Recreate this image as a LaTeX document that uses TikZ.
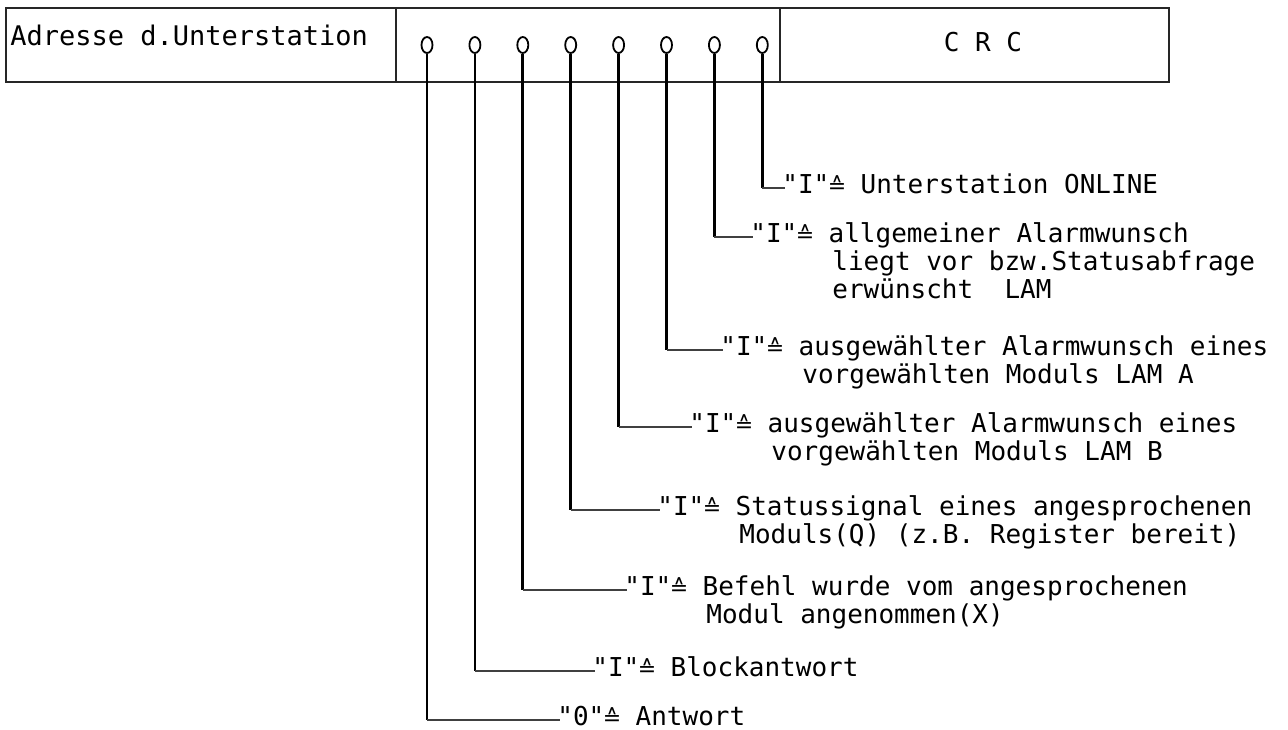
\documentclass[tikz,border=0pt]{standalone}
\usepackage{fontspec}
\usetikzlibrary{shapes.geometric}
\newfontfamily\twfont{DejaVu Sans Mono}
\newfontfamily\symfont{DejaVu Sans}
\newcommand\corr{\makebox[0.602em][c]{\symfont\fontsize{11}{11}\selectfont ≙}}
\begin{document}
\begin{tikzpicture}[x=0.5pt,y=-0.5pt,
  box/.style={draw=black!85, line width=1pt},
  bitmark/.style={draw, ellipse, line width=0.9pt, minimum width=5.5pt, minimum height=8pt, inner sep=0pt},
  stem/.style={line width=1.4pt},
  lead/.style={line width=1pt, draw=black!75},
  lbl/.style={inner sep=0pt, anchor=base west, font=\twfont\fontsize{13}{14}\selectfont},
  hdr/.style={inner sep=0pt, anchor=base west, font=\twfont\fontsize{13.5}{14}\selectfont}]
\useasboundingbox (0,0) rectangle (1288,729);
% frame
\draw[box] (6,8) rectangle (1169,82);
\draw[box] (396,8) -- (396,82);
\draw[box] (780,8) -- (780,82);
\node[hdr] (adr) at (10,45) {Adresse d.Unterstation};
\node[lbl, anchor=base] (crc) at (983,51) {C R C};
% bits
\foreach \i/\cy/\ex in {1/720/560, 2/671/595, 3/590/627, 4/510/660, 5/427/692, 6/350/723, 7/237/753, 8/188/785} {
  \node[bitmark] (c\i) at ({427+47.9*(\i-1)},45) {};
  \coordinate (e\i) at (\ex,\cy);
  \draw[stem] (c\i.south) -- (c\i.south |- e\i);
  \draw[lead] (c\i.south |- e\i) -- (e\i);
}
% labels
\node[lbl, xshift=-1.5pt, yshift=-2.5pt] (t8a) at (e8) {"I"\corr{} Unterstation ONLINE};
\node[lbl, xshift=-1.5pt, yshift=-2.5pt] (t7a) at (e7) {"I"\corr{} allgemeiner Alarmwunsch};
\node[lbl] (t7b) at ([xshift=41pt, yshift=-14pt]t7a.base west) {liegt vor bzw.Statusabfrage};
\node[lbl] (t7c) at ([xshift=41pt, yshift=-28pt]t7a.base west) {erwünscht\ \ LAM};
\node[lbl, xshift=-1.5pt, yshift=-2.5pt] (t6a) at (e6) {"I"\corr{} ausgewählter Alarmwunsch eines};
\node[lbl] (t6b) at ([xshift=41pt, yshift=-14pt]t6a.base west) {vorgewählten Moduls LAM A};
\node[lbl, xshift=-1.5pt, yshift=-2.5pt] (t5a) at (e5) {"I"\corr{} ausgewählter Alarmwunsch eines};
\node[lbl] (t5b) at ([xshift=41pt, yshift=-14pt]t5a.base west) {vorgewählten Moduls LAM B};
\node[lbl, xshift=-1.5pt, yshift=-2.5pt] (t4a) at (e4) {"I"\corr{} Statussignal eines angesprochenen};
\node[lbl] (t4b) at ([xshift=41pt, yshift=-14pt]t4a.base west) {Moduls(Q) (z.B. Register bereit)};
\node[lbl, xshift=-1.5pt, yshift=-2.5pt] (t3a) at (e3) {"I"\corr{} Befehl wurde vom angesprochenen};
\node[lbl] (t3b) at ([xshift=41pt, yshift=-14pt]t3a.base west) {Modul angenommen(X)};
\node[lbl, xshift=-1.5pt, yshift=-2.5pt] (t2a) at (e2) {"I"\corr{} Blockantwort};
\node[lbl, xshift=-1.5pt, yshift=-2.5pt] (t1a) at (e1) {"0"\corr{} Antwort};
\end{tikzpicture}
\end{document}
